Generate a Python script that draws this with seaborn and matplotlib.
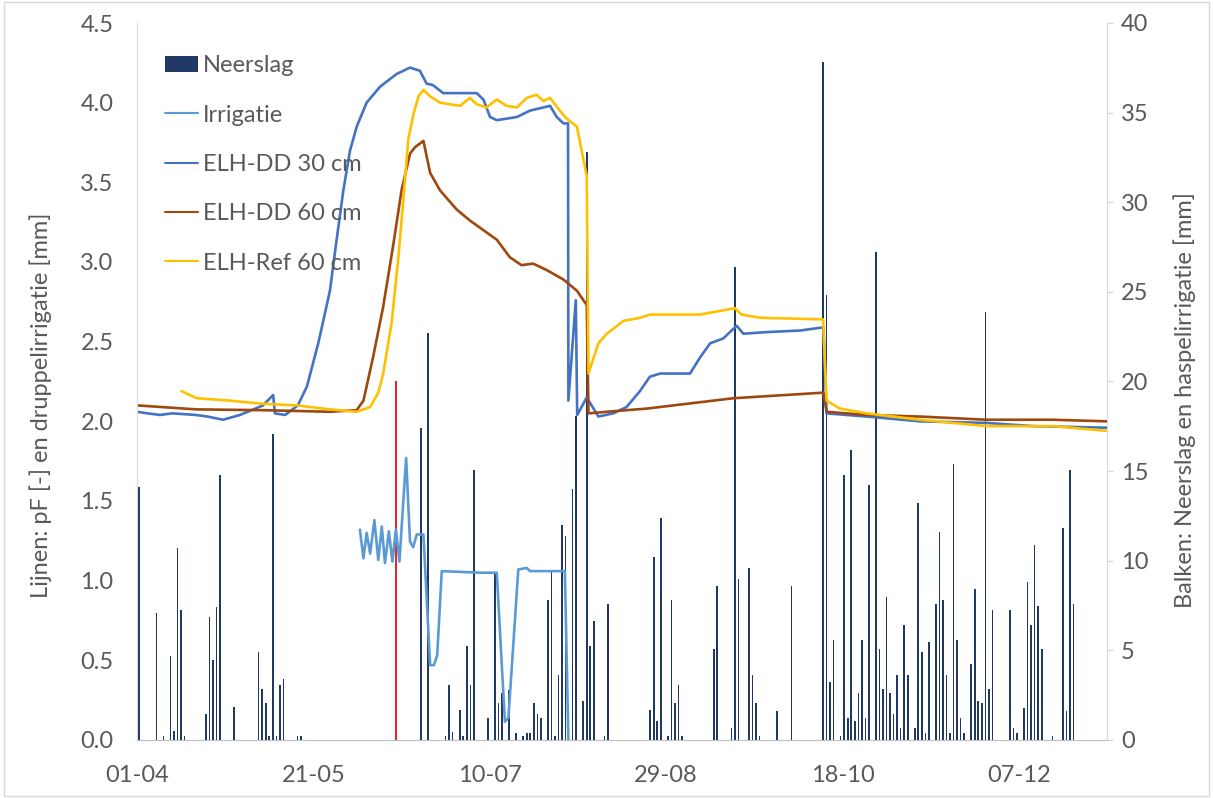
import numpy as np
import pandas as pd
import matplotlib
matplotlib.use('Agg')
import matplotlib.pyplot as plt
import seaborn as sns
from matplotlib.patches import Rectangle
from matplotlib.ticker import FormatStrFormatter

start = pd.Timestamp('2021-04-01')
n_days = 275

# daily rain (day index from 01-04, mm)
rain_day = [0, 5, 7, 9, 10, 11, 12, 13, 19, 20, 21, 22, 23, 27,
            34, 35, 36, 37, 38, 39, 40, 41, 45, 46,
            80, 82, 87, 88, 89, 91, 92, 93, 94, 95, 99, 101, 102, 103, 105,
            107, 109, 110, 111, 112, 113, 114, 116, 117, 118, 119, 120, 121,
            123, 124, 126, 127, 128, 129, 132, 133,
            145, 146, 147, 148, 150, 151, 152, 153, 154, 163, 164, 168, 169,
            170, 173, 174, 175, 176, 181, 185,
            194, 195, 196, 197, 199, 200, 201, 202, 203, 204, 205, 206, 207,
            209, 210, 211, 212, 213, 214, 215, 216, 217, 218, 220, 221, 222,
            223, 224, 226, 227, 228, 229, 230, 231, 232, 233, 234, 236, 237,
            238, 239, 240, 241, 242, 247, 248, 249, 251, 252, 253, 254, 255,
            256, 259, 262, 263, 264, 265]
rain_mm = [14.1, 7.1, 0.2, 4.7, 0.5, 10.7, 7.25, 0.2, 1.45, 6.85, 4.45, 7.4, 14.8, 1.85,
           4.9, 2.85, 2.05, 0.2, 17.05, 0.2, 3.05, 3.4, 0.2, 0.2,
           17.4, 22.7, 0.2, 3.05, 0.45, 1.65, 0.2, 5.25, 3.05, 15.05, 1.2, 9.3, 2.05, 2.6, 2.8,
           0.4, 0.2, 0.4, 0.4, 2.05, 1.45, 1.2, 7.8, 9.4, 0.2, 3.6, 12.0, 11.4,
           14.0, 18.1, 2.2, 32.8, 5.25, 6.65, 0.2, 7.6,
           1.65, 10.2, 1.05, 12.4, 0.2, 7.8, 2.05, 3.05, 0.2, 5.05, 8.6, 0.65, 26.4,
           9.0, 9.6, 3.6, 2.05, 0.2, 1.6, 8.6,
           37.8, 24.8, 3.25, 5.6, 0.2, 14.8, 1.2, 16.2, 1.05, 2.6, 5.6, 1.2, 14.25,
           27.2, 5.05, 2.85, 8.0, 2.6, 1.45, 3.6, 0.65, 6.4, 3.6, 0.65, 13.2, 4.9,
           0.4, 5.45, 7.6, 11.6, 7.8, 3.6, 0.4, 15.4, 5.6, 1.2, 0.4, 4.25, 8.45,
           2.2, 2.05, 23.9, 2.85, 7.25, 7.25, 0.65, 0.4, 1.8, 8.8, 6.4, 10.9, 7.45,
           5.05, 0.2, 11.85, 1.6, 15.05, 7.6]

# haspelirrigatie
hasp_day = [73]
hasp_mm = [20.0]

# druppelirrigatie [mm]
irr_t = [63.2, 64.2, 65.1, 66.1, 67.3, 68.4, 69.4, 70.3, 71.4, 72.4, 73.4, 74.4,
         76.3, 77.4, 78.3, 79.3, 81.2, 83.1, 84.2, 85.1, 86.4, 97.3, 102.0,
         104.3, 105.3, 108.1, 110.5, 111.4, 121.3, 122.3]
irr_v = [1.32, 1.14, 1.30, 1.17, 1.38, 1.13, 1.34, 1.11, 1.31, 1.12, 1.32, 1.12,
         1.77, 1.245, 1.21, 1.29, 1.29, 0.47, 0.47, 0.53, 1.06, 1.05, 1.05,
         0.115, 0.14, 1.07, 1.08, 1.06, 1.06, 0.0]

# pF ELH-DD 30 cm
dd30_t = [0.0, 3.0, 6.5, 10.0, 16.7, 20.0, 24.4, 29.2, 35.7, 38.6, 39.1, 42.0, 45.6,
          48.2, 51.5, 54.7, 56.6, 58.5, 60.4, 62.3, 65.1, 68.9, 73.6, 77.4, 80.2,
          82.1, 83.9, 86.8, 96.3, 98.2, 100.1, 102.0, 107.7, 111.4, 117.1, 119.0,
          120.9, 122.2, 122.3, 124.4, 124.8, 127.5, 130.8, 135.0, 138.8, 142.6,
          145.4, 148.3, 156.8, 159.6, 162.5, 166.2, 170.0, 171.9, 178.5, 188.0,
          194.6, 195.5, 206.9, 222.0, 240.9, 254.1, 274.9]
dd30_v = [2.06, 2.05, 2.04, 2.05, 2.04, 2.03, 2.01, 2.04, 2.10, 2.165, 2.05, 2.04, 2.10,
          2.22, 2.50, 2.82, 3.14, 3.45, 3.70, 3.85, 4.00, 4.10, 4.18, 4.22, 4.20,
          4.12, 4.11, 4.06, 4.06, 4.02, 3.91, 3.89, 3.91, 3.95, 3.98, 3.91,
          3.87, 3.87, 2.13, 2.76, 2.04, 2.15, 2.03, 2.05, 2.09, 2.19,
          2.28, 2.30, 2.30, 2.40, 2.49, 2.52, 2.60, 2.55, 2.56, 2.57,
          2.59, 2.05, 2.03, 2.00, 1.99, 1.97, 1.96]

# pF ELH-DD 60 cm
dd60_t = [0.0, 16.9, 35.7, 54.7, 62.3, 64.2, 67.0, 69.8, 72.6, 75.0, 77.4, 78.8,
          81.2, 83.1, 85.9, 90.6, 94.4, 98.2, 102.0, 105.7, 109.0, 112.3, 116.1,
          120.9, 124.7, 127.5, 128.0, 133.2, 144.5, 169.1, 194.6, 195.5, 206.9,
          222.0, 240.9, 259.7, 274.9]
dd60_v = [2.10, 2.075, 2.07, 2.06, 2.07, 2.13, 2.41, 2.72, 3.10, 3.45, 3.68, 3.72,
          3.76, 3.56, 3.45, 3.33, 3.26, 3.20, 3.14, 3.03, 2.98, 2.99, 2.95,
          2.89, 2.82, 2.73, 2.05, 2.06, 2.08, 2.145, 2.18, 2.06, 2.04,
          2.03, 2.01, 2.01, 2.00]

# pF ELH-Ref 60 cm
ref60_t = [12.6, 16.9, 26.3, 35.7, 45.3, 54.7, 62.3, 66.1, 68.4, 69.8, 72.2, 74.1,
           75.5, 76.9, 78.4, 79.8, 81.2, 83.1, 85.9, 91.6, 94.4, 96.3, 99.1, 102.0,
           104.8, 107.7, 110.5, 113.3, 115.2, 117.1, 119.9, 121.8, 124.7, 127.5,
           128.0, 130.8, 133.2, 137.9, 142.6, 145.4, 159.6, 169.5, 171.4, 176.6,
           194.5, 195.5, 199.3, 206.9, 222.0, 240.9, 259.7, 274.9]
ref60_v = [2.19, 2.145, 2.13, 2.11, 2.10, 2.075, 2.06, 2.09, 2.18, 2.30, 2.62, 3.03,
           3.39, 3.77, 3.93, 4.04, 4.08, 4.04, 4.00, 3.98, 4.03, 3.99, 3.97, 4.02,
           3.98, 3.97, 4.03, 4.05, 4.01, 4.03, 3.95, 3.90, 3.85, 3.54,
           2.30, 2.49, 2.55, 2.63, 2.65, 2.67, 2.67, 2.71, 2.67, 2.65,
           2.64, 2.13, 2.08, 2.05, 2.01, 1.97, 1.97, 1.94]

tick_days = [0, 50, 100, 150, 200, 250]
tick_labels = [(start + pd.Timedelta(days=d)).strftime('%d-%m') for d in tick_days]

grey = '#595959'
axis_col = '#D9D9D9'

sns.set_style('white')
plt.rcParams['font.family'] = ['Lato', 'DejaVu Sans']

fig = plt.figure(figsize=(12.13, 7.98), dpi=100)
ax1 = fig.add_axes([137 / 1213, 1 - 740 / 798, 970 / 1213, 717 / 798])
ax2 = ax1.twinx()
ax1.set_zorder(ax2.get_zorder() + 1)
ax1.patch.set_visible(False)

# bars on the right axis
ax2.bar(np.array(rain_day) + 0.5, rain_mm, width=0.45, color='#203864',
        linewidth=0, label='Neerslag')
ax2.bar(np.array(hasp_day) + 0.5, hasp_mm, width=0.45, color='#E8262A', linewidth=0)

series = [
    (irr_t, irr_v, 'Irrigatie', '#5B9BD5'),
    (dd30_t, dd30_v, 'ELH-DD 30 cm', '#4472C4'),
    (dd60_t, dd60_v, 'ELH-DD 60 cm', '#9E480E'),
    (ref60_t, ref60_v, 'ELH-Ref 60 cm', '#FFC000'),
]
for t, v, name, col in series:
    df = pd.DataFrame({'dag': t, 'waarde': v})
    sns.lineplot(data=df, x='dag', y='waarde', ax=ax1, color=col, linewidth=1.9,
                 label=name, sort=False, estimator=None)

ax1.set_xlim(0, n_days)
ax1.set_ylim(0, 4.5)
ax1.set_yticks(np.arange(0, 4.51, 0.5))
ax1.yaxis.set_major_formatter(FormatStrFormatter('%.1f'))
ax1.set_xticks(tick_days, tick_labels)
ax2.set_ylim(0, 40)
ax2.set_yticks(range(0, 41, 5))

ax1.tick_params(axis='y', length=0, pad=17, labelsize=17, labelcolor=grey)
ax1.tick_params(axis='x', length=0, pad=18, labelsize=17, labelcolor=grey)
ax2.tick_params(axis='y', length=4, width=1, color=axis_col, direction='out',
                pad=6, labelsize=17, labelcolor=grey)

for s in ['top', 'right']:
    ax1.spines[s].set_visible(False)
for s in ['top', 'left', 'bottom']:
    ax2.spines[s].set_visible(False)
ax1.spines['left'].set_color(axis_col)
ax1.spines['bottom'].set_color('#BFBFBF')
ax2.spines['right'].set_color(axis_col)

ax1.set_xlabel('')
ax1.set_ylabel('Lijnen: pF [-] en druppelirrigatie [mm]', fontsize=17, color=grey)
ax2.set_ylabel('Balken: Neerslag en haspelirrigatie [mm]', fontsize=17, color=grey)
ax1.yaxis.set_label_coords(-0.088, 0.467)
ax2.yaxis.set_label_coords(1.068, 0.474)

h1, l1 = ax1.get_legend_handles_labels()
h2, l2 = ax2.get_legend_handles_labels()
ax1.get_legend().remove()
leg = ax1.legend(h2 + h1, l2 + l1, loc='upper left', bbox_to_anchor=(0.029, 0.955),
                 frameon=False, fontsize=17, labelcolor=grey, handlelength=1.4,
                 handletextpad=0.2, labelspacing=1.2, borderpad=0, borderaxespad=0)
for ln in leg.get_lines():
    ln.set_linewidth(1.5)

fig.add_artist(Rectangle((4 / 1213, 2 / 798), 1205 / 1213, 794 / 798,
                         transform=fig.transFigure, fill=False,
                         edgecolor=axis_col, linewidth=1))

fig.savefig('out.png', dpi=100)
